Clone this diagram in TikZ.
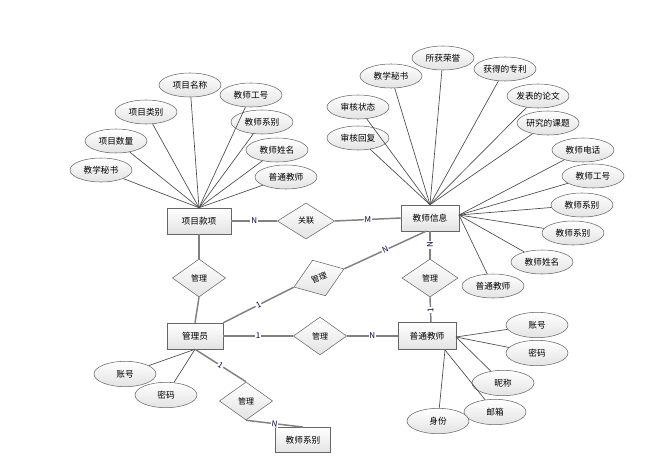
\documentclass[tikz,border=0pt]{standalone}
\usepackage{fontspec}
\setmainfont{Noto Sans CJK SC}
\usetikzlibrary{shapes.geometric}

\tikzset{
  ent/.style={draw=gray!80!black, top color=white, bottom color=gray!22,
    minimum width=43.5pt, minimum height=19.5pt, inner sep=0pt, font=\fontsize{6.5}{8}\selectfont},
  attr/.style={ellipse, draw=gray!80!black, top color=white, bottom color=gray!22,
    minimum width=46.5pt, minimum height=18pt, inner sep=0pt, font=\fontsize{6.5}{8}\selectfont},
  rel/.style={diamond, draw=gray!80!black, top color=white, bottom color=gray!22,
    minimum width=40pt, minimum height=28.5pt, inner sep=0pt, aspect=1.4, font=\fontsize{6}{7}\selectfont},
  link/.style={draw=gray, line width=1.1pt},
  att/.style={draw=gray!60!black, line width=0.5pt},
  card/.style={fill=white, inner sep=0.6pt, text=blue!30!black, font=\fontsize{6}{7}\selectfont}
}

\begin{document}
\begin{tikzpicture}[x=0.75pt,y=-0.75pt]
\useasboundingbox (0,0) rectangle (672,475);

% Entities
\node[ent, minimum width=48pt] (xm) at (199,221) {项目款项};
\node[ent] (js) at (430,218) {教师信息};
\node[ent, minimum width=42pt] (gly) at (195,336) {管理员};
\node[ent, minimum height=20pt] (pt) at (427,336) {普通教师};
\node[ent, minimum width=41pt, minimum height=19pt] (xb) at (303,440) {教师系别};

% Relationships
\node[rel, minimum width=43pt, minimum height=27pt] (gl) at (306,221) {关联};
\node[rel] (r1) at (199,278) {管理};
\node[rel, rotate=20] (r2) at (319,278) {管理};
\node[rel] (r3) at (320,336) {管理};
\node[rel, minimum width=42pt] (r4) at (430,278) {管理};
\node[rel] (r5) at (246,401) {管理};

% Attributes of 项目款项
\node[attr] (a1) at (190,85) {项目名称};
\node[attr] (a2) at (146,112) {项目类别};
\node[attr] (a3) at (251,95) {教师工号};
\node[attr] (a4) at (116,141) {项目数量};
\node[attr] (a5) at (262,122) {教师系别};
\node[attr] (a6) at (277,150) {教师姓名};
\node[attr] (a7) at (101,170) {教学秘书};
\node[attr] (a8) at (286,177) {普通教师};
\foreach \i in {1,...,8}
  \draw[att] (a\i) -- (xm.north);

% Attributes of 教师信息
\node[attr] (b1) at (443,58) {所获荣誉};
\node[attr] (b2) at (391,76) {教学秘书};
\node[attr] (b3) at (505,69) {获得的专利};
\node[attr] (b4) at (358,107) {审核状态};
\node[attr] (b5) at (538,96) {发表的论文};
\node[attr] (b6) at (358,138) {审核回复};
\node[attr] (b7) at (548,123) {研究的课题};
\node[attr] (b8) at (583,150) {教师电话};
\node[attr] (b9) at (593,176) {教师工号};
\node[attr] (b10) at (582,205) {教师系别};
\node[attr] (b11) at (573,233) {教师系别};
\node[attr] (b12) at (542,262) {教师姓名};
\node[attr] (b13) at (493,286) {普通教师};
\coordinate (jsr) at (459,215);
\foreach \i in {1,...,7}
  \draw[att] (b\i) -- (js.north);
\foreach \i in {8,...,13}
  \draw[att] (b\i) -- (jsr);

% Attributes of 管理员
\node[attr, minimum height=19pt] (c1) at (125,374) {账号};
\node[attr, minimum height=19pt] (c2) at (166,395) {密码};
\foreach \i in {1,2}
  \draw[att] (c\i) -- (gly.south);

% Attributes of 普通教师
\node[attr, minimum height=19pt] (d1) at (537,325) {账号};
\node[attr, minimum height=19pt] (d2) at (537,353) {密码};
\node[attr, minimum height=19pt] (d3) at (503,383) {昵称};
\node[attr, minimum height=19pt] (d4) at (495,412) {邮箱};
\node[attr, minimum height=19pt] (d5) at (438,421) {身份};
\coordinate (ptr) at (456,337);
\coordinate (ptb) at (445,350);
\draw[att] (d1) -- (ptr);
\draw[att] (d2) -- (ptr);
\draw[att] (d3) -- (ptr);
\draw[att] (d4) -- (ptb);
\draw[att] (d5) -- (ptb);

% Connections
\draw[link] (xm.east) -- node[card] {N} (gl.west);
\draw[link] (gl.east) -- node[card] {M} (js.west);
\draw[link] (xm.south) -- (r1.north);
\draw[link] (r1.south) -- (gly.north);
\draw[link] (gly.north east) -- node[card, sloped] {1} (r2.west);
\draw[link] (r2.east) -- node[card, sloped] {N} ([xshift=-3]js.south);
\draw[link] (gly.east) -- node[card] {1} (r3.west);
\draw[link] (r3.east) -- node[card] {N} (pt.west);
\draw[link] (js.south) -- node[card, rotate=90] {N} (r4.north);
\draw[link] (r4.south) -- node[card, rotate=90] {1} ([xshift=3]pt.north);
\draw[link] (gly.south) -- node[card, sloped] {1} (r5.north);
\draw[link] (r5.south) -- node[card, sloped] {N} (xb.north);
\end{tikzpicture}
\end{document}
